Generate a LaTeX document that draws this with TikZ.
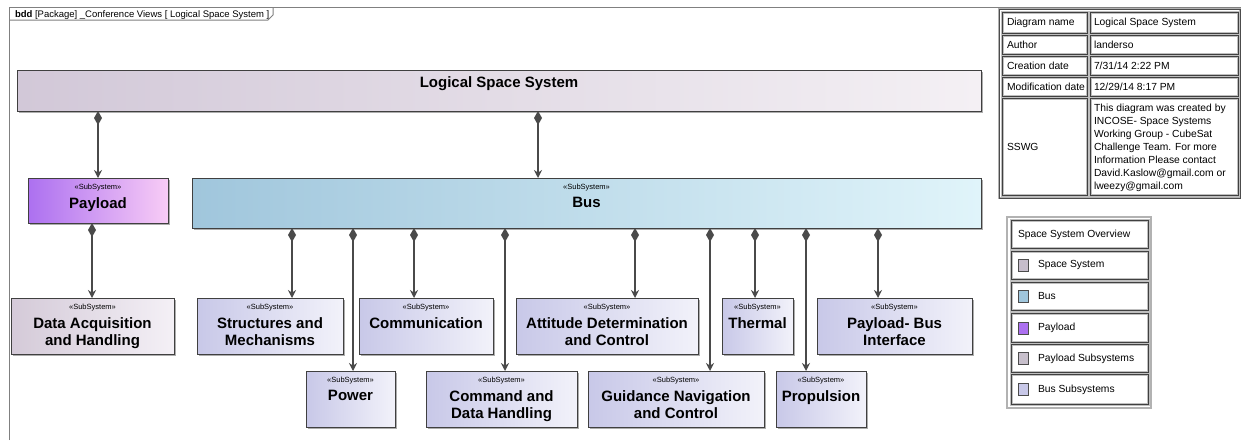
\documentclass[tikz,border=0pt]{standalone}
\usepackage{fontspec}
\setmainfont{Liberation Sans}
\usetikzlibrary{arrows.meta,calc,shadows}
\definecolor{lineC}{HTML}{4A4A4A}
\definecolor{boxline}{HTML}{404040}
\definecolor{frameC}{HTML}{808080}
\definecolor{lssL}{RGB}{210,200,216}
\definecolor{lssR}{RGB}{244,240,244}
\definecolor{payL}{RGB}{172,112,240}
\definecolor{payR}{RGB}{248,204,246}
\definecolor{busL}{RGB}{160,198,220}
\definecolor{busR}{RGB}{224,244,250}
\definecolor{bsL}{RGB}{200,200,232}
\definecolor{bsR}{RGB}{242,242,250}
\definecolor{psL}{RGB}{212,202,216}
\definecolor{psR}{RGB}{244,240,246}
\tikzset{
  plain/.style={inner sep=0pt, outer sep=0pt},
  ssbox/.style={draw=boxline, line width=0.9pt, inner sep=0pt, outer sep=0pt, anchor=north west,
    drop shadow={shadow xshift=2pt, shadow yshift=-2pt, fill=black!40, opacity=0.8}},
  lssbox/.style={ssbox, left color=lssL, right color=lssR},
  paybox/.style={ssbox, left color=payL, right color=payR},
  busbox/.style={ssbox, left color=busL, right color=busR},
  bsbox/.style={ssbox, left color=bsL, right color=bsR},
  psbox/.style={ssbox, left color=psL, right color=psR},
  stereo/.style={plain, font=\fontsize{7.5}{8}\selectfont, anchor=base},
  bname/.style={plain, font=\fontsize{15}{17}\selectfont\bfseries, align=center, anchor=north},
  comp/.style={draw=lineC, line width=1.8pt, {Diamond[length=14pt,width=8pt]}-{Stealth[length=8pt,width=8pt]}},
  frameline/.style={draw=frameC, line width=1pt},
  cell/.style={draw=black!75, line width=0.8pt, preaction={draw=black!25, line width=2.6pt}, inner sep=0pt, anchor=north west},
  celltxt/.style={plain, font=\fontsize{10.3}{13.1}\selectfont, anchor=west, align=left},
  swatch/.style={draw=black!70, line width=0.6pt, inner sep=0pt, minimum width=10pt, minimum height=12pt, anchor=west},
}
\newcommand{\ssnode}[7]{%
  \node[#1, minimum width=#5pt-#3pt, minimum height=#6pt-#4pt] (#2) at (#3,#4) {};
  \node[stereo] (#2-st) at ($(#2.north)+(0,11.5)$) {«SubSystem»};
  \node[bname] (#2-nm) at ($(#2.north)+(0,19.3)$) {#7};
}
\newcommand{\tcell}[5]{% name, x1, y1, x2, y2
  \node[cell, minimum width=#4pt-#2pt, minimum height=#5pt-#3pt] (#1) at (#2,#3) {};
}
\begin{document}
\begin{tikzpicture}[x=1pt,y=-1pt]
\useasboundingbox[fill=white] (0,0) rectangle (1241,440);
% frame
\draw[frameline] (9,440) -- (9,7) -- (1241,7);
\draw[frameline] (9,20) -- (268,20) -- (273,15) -- (273,7);
\node[plain, anchor=base west, font=\fontsize{9.5}{11}\selectfont] (tab) at (15,17.5)
  {\textbf{bdd} [Package] \_Conference Views [ Logical Space System ]};

% top block
\node[lssbox, minimum width=964pt, minimum height=41pt] (lss) at (17,70) {};
\node[plain, anchor=base, font=\fontsize{15}{17}\selectfont\bfseries] (lss-nm) at ($(lss.north)+(0,17)$) {Logical Space System};

\ssnode{paybox}{pay}{28}{178}{168}{223}{Payload}
\ssnode{busbox}{bus}{192}{178}{981}{228}{Bus}
\ssnode{psbox}{daq}{11}{298}{174}{354}{Data Acquisition\\and Handling}
\ssnode{bsbox}{str}{197}{298}{343}{354}{Structures and\\Mechanisms}
\ssnode{bsbox}{com}{359}{298}{493}{354}{Communication}
\ssnode{bsbox}{adc}{516}{298}{698}{354}{Attitude Determination\\and Control}
\ssnode{bsbox}{the}{722}{298}{793}{354}{Thermal}
\ssnode{bsbox}{pbi}{817}{298}{972}{354}{Payload- Bus\\Interface}
\ssnode{bsbox}{pow}{306}{371}{395}{427}{Power}
\ssnode{bsbox}{cdh}{426}{371}{577}{427}{Command and\\Data Handling}
\ssnode{bsbox}{gnc}{588}{371}{764}{427}{Guidance Navigation\\and Control}
\ssnode{bsbox}{pro}{776}{371}{866}{427}{Propulsion}

% connector columns
\coordinate (xPay) at (98,0);
\coordinate (xBus) at (538,0);
\coordinate (xDaq) at (92,0);
\coordinate (xStr) at (292,0);
\coordinate (xPow) at (353,0);
\coordinate (xCom) at (414,0);
\coordinate (xCdh) at (505,0);
\coordinate (xAdc) at (635,0);
\coordinate (xGnc) at (710,0);
\coordinate (xThe) at (755,0);
\coordinate (xPro) at (806,0);
\coordinate (xPbi) at (878,0);

\draw[comp] (xPay |- lss.south) -- (xPay |- pay.north);
\draw[comp] (xBus |- lss.south) -- (xBus |- bus.north);
\draw[comp] (xDaq |- pay.south) -- (xDaq |- daq.north);
\draw[comp] (xStr |- bus.south) -- (xStr |- str.north);
\draw[comp] (xPow |- bus.south) -- (xPow |- pow.north);
\draw[comp] (xCom |- bus.south) -- (xCom |- com.north);
\draw[comp] (xCdh |- bus.south) -- (xCdh |- cdh.north);
\draw[comp] (xAdc |- bus.south) -- (xAdc |- adc.north);
\draw[comp] (xGnc |- bus.south) -- (xGnc |- gnc.north);
\draw[comp] (xThe |- bus.south) -- (xThe |- the.north);
\draw[comp] (xPro |- bus.south) -- (xPro |- pro.north);
\draw[comp] (xPbi |- bus.south) -- (xPbi |- pbi.north);

% info table
\draw[draw=black!30, line width=2.2pt] (999,9) rectangle (1240,198);
\draw[draw=black!70, line width=0.7pt] (999,9) rectangle (1240,198);
\tcell{k1}{1002}{12}{1087}{33}
\tcell{v1}{1090}{12}{1238}{33}
\tcell{k2}{1002}{35}{1087}{54}
\tcell{v2}{1090}{35}{1238}{54}
\tcell{k3}{1002}{56}{1087}{75}
\tcell{v3}{1090}{56}{1238}{75}
\tcell{k4}{1002}{77}{1087}{96}
\tcell{v4}{1090}{77}{1238}{96}
\tcell{k5}{1002}{98}{1087}{195}
\tcell{v5}{1090}{98}{1238}{195}
\node[celltxt] (k1t) at ($(k1.west)+(5,0)$) {Diagram name};
\node[celltxt] (v1t) at ($(v1.west)+(4,0)$) {Logical Space System};
\node[celltxt] (k2t) at ($(k2.west)+(5,0)$) {Author};
\node[celltxt] (v2t) at ($(v2.west)+(4,0)$) {landerso};
\node[celltxt] (k3t) at ($(k3.west)+(5,0)$) {Creation date};
\node[celltxt] (v3t) at ($(v3.west)+(4,0)$) {7/31/14 2:22 PM};
\node[celltxt] (k4t) at ($(k4.west)+(5,0)$) {Modification date};
\node[celltxt] (v4t) at ($(v4.west)+(4,0)$) {12/29/14 8:17 PM};
\node[celltxt] (k5t) at ($(k5.west)+(5,0)$) {SSWG};
\node[celltxt] (v5t) at ($(v5.west)+(4,1)$) {This diagram was created by\\INCOSE- Space Systems\\Working Group - CubeSat\\Challenge Team. For more\\Information Please contact\\David.Kaslow@gmail.com or\\lweezy@gmail.com};

% legend
\draw[draw=black!30, line width=1.4pt] (1007,217) rectangle (1151,408);
\tcell{l0}{1011}{220}{1148}{248}
\tcell{l1}{1011}{251}{1148}{279}
\tcell{l2}{1011}{282}{1148}{310}
\tcell{l3}{1011}{313}{1148}{342}
\tcell{l4}{1011}{344}{1148}{372}
\tcell{l5}{1011}{374}{1148}{404}
\node[celltxt] (l0t) at ($(l0.west)+(7,0)$) {Space System Overview};
\node[swatch, fill=lssL!85!gray] (s1) at ($(l1.west)+(7,0)$) {};
\node[swatch, fill=busL] (s2) at ($(l2.west)+(7,0)$) {};
\node[swatch, fill=payL] (s3) at ($(l3.west)+(7,0)$) {};
\node[swatch, fill=psL!85!gray] (s4) at ($(l4.west)+(7,0)$) {};
\node[swatch, fill=bsL] (s5) at ($(l5.west)+(7,0)$) {};
\node[celltxt] (l1t) at ($(l1.west)+(27,0)$) {Space System};
\node[celltxt] (l2t) at ($(l2.west)+(27,0)$) {Bus};
\node[celltxt] (l3t) at ($(l3.west)+(27,0)$) {Payload};
\node[celltxt] (l4t) at ($(l4.west)+(27,0)$) {Payload Subsystems};
\node[celltxt] (l5t) at ($(l5.west)+(27,0)$) {Bus Subsystems};
\end{tikzpicture}
\end{document}
